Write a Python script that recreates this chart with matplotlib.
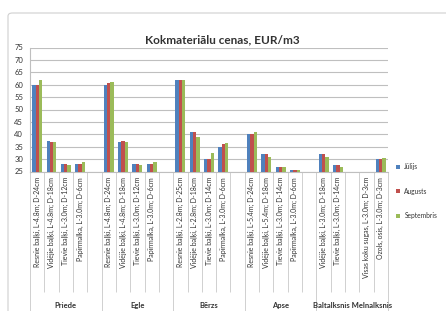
import numpy as np
import matplotlib
matplotlib.use("Agg")
import matplotlib.pyplot as plt
from matplotlib.patches import FancyBboxPatch

plt.rcParams['font.family'] = ['Lato', 'DejaVu Sans']

# data
groups = ["Priede", "Egle", "Bērzs", "Apse", "Baltalksnis Melnalksnis"]
labels = [
    "Resnie baļķi, L-4.8m; D-24cm", "Vidējie baļķi, L-4.8m; D-18cm",
    "Tievie baļķi, L-3.0m; D-12cm", "Papīrmalka, L-3.0m; D-6cm", "",
    "Resnie baļķi, L-4.8m; D-24cm", "Vidējie baļķi, L-4.8m; D-18cm",
    "Tievie baļķi, L-3.0m; D-12cm", "Papīrmalka, L-3.0m; D-6cm", "",
    "Resnie baļķi, L-2.8m; D-25cm", "Vidējie baļķi, L-2.8m; D-18cm",
    "Tievie baļķi, L-3.0m; D-14cm", "Papīrmalka, L-3.0m; D-6cm", "",
    "Resnie baļķi, L-5.4m; D-24cm", "Vidējie baļķi, L-5.4m; D-18cm",
    "Tievie baļķi, L-3.0m; D-14cm", "Papīrmalka, L-3.0m; D-6cm", "",
    "Vidējie baļķi, L-3.0m; D-18cm", "Tievie baļķi, L-3.0m; D-14cm", "",
    "Visas koku sugas, L-3.0m; D-3cm", "Ozols, osis, L-3.0m; D-3cm",
]
jul = [60, 37.5, 28, 28, np.nan,
       60, 37, 28, 28, np.nan,
       62, 41, 30, 35, np.nan,
       40, 32, 27, 25.5, np.nan,
       32, 27.5, np.nan, np.nan, 30]
aug = [60, 37, 28, 28, np.nan,
       60.5, 37.5, 28, 28, np.nan,
       62, 41, 30, 36, np.nan,
       40, 32, 27, 25.5, np.nan,
       32, 27.5, np.nan, np.nan, 30]
sep = [62, 37, 27.5, 29, np.nan,
       61, 37, 27.5, 29, np.nan,
       62, 39, 32.5, 36.5, np.nan,
       41, 31, 27, 25.5, np.nan,
       31, 27, np.nan, np.nan, 30.5]
series = ["Jūlijs", "Augusts", "Septembris"]
colors = ["#4F81BD", "#C0504D", "#9BBB59"]

W, H = 446, 311
fig = plt.figure(figsize=(W / 100, H / 100), dpi=100)

# chart border
fig.patches.append(FancyBboxPatch((8 / W, -0.1), 1.2, (H - 13) / H + 0.1,
                                  boxstyle="round,pad=0,rounding_size=0.01",
                                  transform=fig.transFigure, fill=False,
                                  edgecolor="#d0d0d0", linewidth=0.8))

ax = fig.add_axes([30 / W, 1 - 171.5 / H, 358 / W, 124 / H])
x = np.arange(len(labels))
w = 0.23
for k, (vals, name, c) in enumerate(zip([jul, aug, sep], series, colors)):
    v = np.array(vals, dtype=float)
    ax.bar(x + (k - 1) * w, v - 25, w, bottom=25, color=c, label=name, zorder=3)

ax.set_xlim(-0.5, len(labels) - 0.5)
ax.set_ylim(25, 75)
ax.set_yticks(np.arange(25, 80, 5))
ax.grid(axis="y", color="#bfbfbf", linewidth=0.8, zorder=0)
for s in ["top", "right"]:
    ax.spines[s].set_visible(False)
ax.spines["left"].set_color("#bfbfbf")
ax.spines["bottom"].set_color("#bfbfbf")
ax.tick_params(axis="y", length=0, labelsize=5.5, pad=5, labelcolor="#333333")
ax.set_xticks(x)
ax.set_xticklabels(labels, rotation=90, fontsize=5, color="#333333")
ax.tick_params(axis="x", length=0, pad=4)

# category separators
trans = ax.get_xaxis_transform()
seps = np.arange(len(labels) + 1) - 0.5
ax.vlines(seps, -0.97, 0, transform=trans, color="#d0d0d0", linewidth=0.7, clip_on=False)
ax.vlines(seps[::5], -1.2, 0, transform=trans, color="#d0d0d0", linewidth=0.7, clip_on=False)

# group labels
for i, g in enumerate(groups):
    ax.text(i * 5 + 2, -1.055, g, transform=trans, ha="center", va="top",
            fontsize=5.5, fontweight="bold", color="#333333", clip_on=False)

fig.text(222 / W, 1 - 40 / H, "Kokmateriālu cenas, EUR/m3", ha="center", va="center",
         fontsize=8.5, fontweight="bold", color="#333333")

leg = fig.legend(loc="upper left", bbox_to_anchor=(393 / W, 1 - 160 / H), frameon=False,
                 fontsize=4.8, handlelength=0.6, handleheight=0.6, labelspacing=2.6,
                 handletextpad=0.6, borderpad=0)
for t in leg.get_texts():
    t.set_color("#333333")

fig.savefig("out.png", dpi=100)
